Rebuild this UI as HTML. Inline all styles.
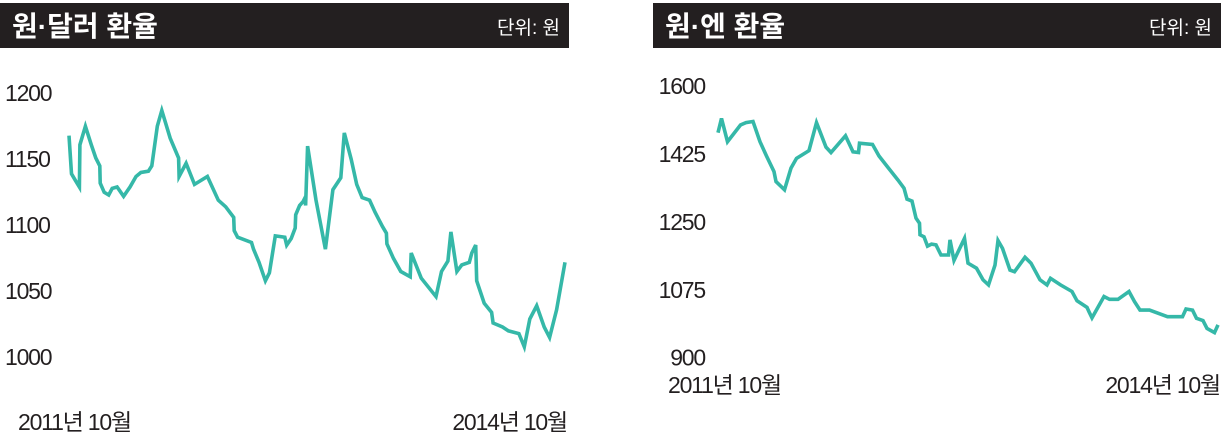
<!DOCTYPE html>
<html><head><meta charset="utf-8"><style>
body{margin:0;background:#fff;width:1226px;height:440px;overflow:hidden}
svg{display:block}
text{font-family:"Liberation Sans","Noto Sans CJK KR",sans-serif}
.ax{font-size:23px;fill:#231f20;letter-spacing:-1.2px}
.hd{fill:#fff}
</style></head><body>
<svg id="c" width="1226" height="440">
<rect x="0" y="3" width="569" height="45" fill="#231f20"/>
<text x="12" y="36" class="hd" font-size="28" font-weight="bold">원·달러 환율</text>
<text x="560" y="34" class="hd" font-size="19" text-anchor="end">단위: 원</text>
<rect x="653" y="3" width="568" height="45" fill="#231f20"/>
<text x="665" y="36" class="hd" font-size="28" font-weight="bold">원·엔 환율</text>
<text x="1212" y="34" class="hd" font-size="19" text-anchor="end">단위: 원</text>
<text x="18" y="430" class="ax">2011년 10월</text>
<text x="567" y="430" class="ax" text-anchor="end">2014년 10월</text>
<text x="668" y="393" class="ax">2011년 10월</text>
<text x="1220" y="393" class="ax" text-anchor="end">2014년 10월</text>
</svg>
<script>
const usdT=[0,0.5,1.3,2.1,2.2,3.3,4.5,5.4,6.2,6.3,7.1,8,8.7,9.7,11,12.3,13.5,14.5,16,16.7,17.8,18.7,20.4,22.1,22.2,23.6,25.3,27.9,30.1,31.6,33.2,33.3,34,36.8,37.2,38.3,39.6,40.4,41.6,43.5,43.9,44.8,45.6,45.7,46.5,47.2,47.6,47.7,48.1,49.8,51.7,53.2,54.8,55.5,56.9,58,59.1,60.6,61.7,63.2,64,64.1,65.4,66.9,68.8,69,71,74,75.1,76.4,77,78.2,79.2,80.7,81.2,82,82.2,83.7,85.2,85.5,87.4,88.6,90.7,91.8,92.9,94.3,95.8,96.9,98.3,100];
const usdV=[1167,1138,1133,1128,1160,1174,1160,1150,1144,1131,1124,1122,1127,1128,1121,1128,1136,1139,1140,1144,1174,1186,1165,1150,1136,1146,1130,1136,1118,1113,1105,1095,1090,1086,1081,1071,1057,1063,1091,1090,1084,1089,1097,1107,1114,1117,1120,1114,1159,1118,1081,1126,1135,1169,1149,1130,1120,1118,1109,1098,1093,1085,1074,1064,1060,1078,1059,1045,1064,1072,1094,1064,1069,1071,1078,1084,1057,1040,1033,1025,1022,1019,1017,1007,1028,1038,1022,1014,1035,1071];
const usdTicks=[1200,1150,1100,1050,1000];
const jpyT=[0,0.7,1.9,4.5,5.6,7,8.4,9.7,11.2,11.6,13.3,14.6,15.7,18.2,19.7,21.6,22.6,25.5,27,28.1,28.3,30.9,32.2,34.1,36,37.2,37.8,38.8,39.6,40.3,40.4,41.2,41.9,42.7,43.6,44.6,46.1,46.4,47.2,49.3,50,51.7,53,54.1,55.4,56,56.9,58.4,59.3,61.4,62.6,64.4,65.8,66.5,68.5,70.8,71.8,73.8,75,74.5,77.2,78.3,80,82.2,83.3,84.4,86.3,89.9,92.9,93.6,94.9,95.7,97,97.8,99.3,100];
const jpyV=[1477,1514,1454,1497,1503,1506,1454,1417,1377,1351,1330,1386,1411,1431,1503,1440,1426,1469,1428,1426,1450,1447,1417,1386,1355,1334,1306,1301,1257,1244,1214,1209,1185,1190,1188,1162,1162,1201,1148,1205,1141,1128,1098,1085,1136,1199,1179,1123,1119,1156,1141,1098,1085,1102,1085,1068,1044,1027,1016,1000,1055,1048,1048,1068,1042,1020,1020,1003,1003,1023,1020,999,993,973,962,982];
const jpyTicks=[1600,1425,1250,1075,900];
// fix ordering of the V-dip in jpy
jpyT[58]=74.2;jpyT[59]=74.8;
const svg=document.getElementById('c');
const NS='http://www.w3.org/2000/svg';
function chart(T,V,ticks,x0,x1,vTop,yTop,vBot,yBot,labX,anchor,name){
  const xs=t=>x0+(x1-x0)*t/100;
  const ys=v=>yTop+(yBot-yTop)*(vTop-v)/(vTop-vBot);
  ticks.forEach(tk=>{
    const t=document.createElementNS(NS,'text');
    
    
    t.setAttribute('x',labX);t.setAttribute('y',ys(tk)+9);
    t.setAttribute('class','ax');t.setAttribute('text-anchor',anchor);
    t.textContent=tk;svg.appendChild(t);
  });
  const p=document.createElementNS(NS,'polyline');
  
  
  p.setAttribute('points',T.map((t,i)=>xs(t).toFixed(1)+','+ys(V[i]).toFixed(1)).join(' '));
  p.setAttribute('fill','none');p.setAttribute('stroke','#35b8a8');
  p.setAttribute('stroke-width','3.6');p.setAttribute('stroke-linejoin','miter');
  svg.appendChild(p);
}
chart(usdT,usdV,usdTicks,69,565,1200,92,1000,356,5,'start','usd');
chart(jpyT,jpyV,jpyTicks,718,1218,1600,85,900,356.7,705,'end','jpy');
</script>
</body></html>
